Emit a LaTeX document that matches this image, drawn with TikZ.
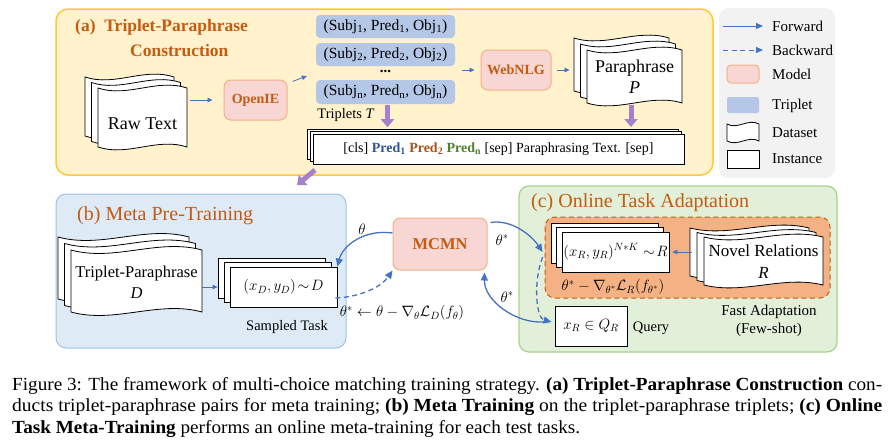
\RequirePackage{fix-cm}
\documentclass[tikz,border=0pt]{standalone}
\usepackage{fontspec}
\setmainfont{Liberation Serif}
\usepackage{graphicx}
\usetikzlibrary{arrows.meta,calc}
\definecolor{ttl}{HTML}{C55A11}
\definecolor{fwdc}{HTML}{4472C4}
\definecolor{purp}{HTML}{A681C9}
\definecolor{aFill}{HTML}{FFF2CC}
\definecolor{aDraw}{HTML}{FFC936}
\definecolor{bFill}{HTML}{DEEBF7}
\definecolor{bDraw}{HTML}{9DC3E6}
\definecolor{cFill}{HTML}{E2F0D9}
\definecolor{cDraw}{HTML}{A9D18E}
\definecolor{oFill}{HTML}{F4B183}
\definecolor{oDraw}{HTML}{C55A11}
\definecolor{mFill}{HTML}{F7D6D4}
\definecolor{mDraw}{HTML}{F4B183}
\definecolor{tFill}{HTML}{B4C7E7}
\definecolor{legFill}{HTML}{F2F2F2}
\definecolor{pOne}{HTML}{2F5597}
\definecolor{pTwo}{HTML}{A5521B}
\definecolor{pN}{HTML}{4F7F2F}
\newcommand\fs[1]{\pgfmathsetmacro\fsbase{#1*1.2}\fontsize{#1}{\fsbase}\selectfont}
\newcommand\wavedoc[5]{%
 \pgfmathsetmacro\wA{#1+(#3-#1)/3}\pgfmathsetmacro\wB{#1+2*(#3-#1)/3}%
 \pgfmathsetmacro\tA{#2+#5}\pgfmathsetmacro\tB{#2-#5}%
 \pgfmathsetmacro\bA{#4+#5}\pgfmathsetmacro\bB{#4-#5}%
 \filldraw[docpage] (#1,#2) .. controls (\wA,\tA) and (\wB,\tB) .. (#3,#2) -- (#3,#4) .. controls (\wB,\bB) and (\wA,\bA) .. (#1,#4) -- cycle;}
\begin{document}
\begin{tikzpicture}[x=1pt,y=-1pt,
  docpage/.style={draw=black,fill=white,line width=0.8pt},
  instpage/.style={draw=black,fill=white,line width=0.8pt},
  fwd/.style={draw=fwdc,line width=0.8pt,-{Triangle[length=5pt,width=4.5pt]}},
  curv/.style={draw=fwdc,line width=1.3pt,-{Triangle[length=8pt,width=7pt]}},
  dsh/.style={dash pattern=on 5pt off 3.5pt},
  purparrow/.style={draw=purp,line width=5pt,-{Triangle[length=8pt,width=13pt]}},
  model/.style={draw=mDraw,fill=mFill,rounded corners=7pt,line width=1pt,text=ttl,inner sep=0pt},
  trip/.style={fill=tFill,rounded corners=4pt,inner sep=0pt,minimum width=139pt,font=\fs{15.5}},
  doctext/.style={inner sep=0pt,font=\fs{18},align=center},
  lbl/.style={inner sep=0pt},
  legtext/.style={anchor=west,inner sep=0pt,font=\fs{15}},
]
\useasboundingbox (0,0) rectangle (896,447);
% ---------- panels ----------
\filldraw[fill=aFill,draw=aDraw,line width=1.5pt,rounded corners=12pt] (56,9) rectangle (713,175);
\filldraw[fill=legFill,draw=none,rounded corners=10pt] (719,8) rectangle (835,178);
\filldraw[fill=bFill,draw=bDraw,line width=1pt,rounded corners=10pt] (56,194) rectangle (346,348);
\filldraw[fill=cFill,draw=cDraw,line width=1.2pt,rounded corners=10pt] (519,186) rectangle (837,352);
\filldraw[fill=oFill,draw=oDraw,line width=1pt,dsh,rounded corners=10pt] (545,217) rectangle (830,298);
% ---------- titles ----------
\node[lbl,anchor=west,text=ttl,font=\fs{17.5}\bfseries] (ta) at (75,27) {(a)\enspace Triplet-Paraphrase};
\node[lbl,anchor=west,text=ttl,font=\fs{17.5}\bfseries] (ta2) at (130,51) {Construction};
\node[lbl,anchor=west,text=ttl,font=\fs{20}] (tb) at (77,216) {(b) Meta Pre-Training};
\node[lbl,anchor=west,text=ttl,font=\fs{20}] (tc) at (531,203) {(c) Online Task Adaptation};
% ---------- (a) ----------
\wavedoc{85}{77}{174}{136}{10}
\wavedoc{91.5}{82.5}{180.5}{141.5}{10}
\wavedoc{98}{88}{187}{147}{10}
\node[doctext] (raw) at (142.5,124) {Raw Text};
\node[model,minimum width=63pt,minimum height=40pt,font=\fs{14}\bfseries] (openie) at (255.5,100) {OpenIE};
\node[trip,minimum height=23pt] (t1) at (385.5,26.5) {(Subj\textsubscript{1}, Pred\textsubscript{1}, Obj\textsubscript{1})};
\node[trip,minimum height=23pt] (t2) at (385.5,54.5) {(Subj\textsubscript{2}, Pred\textsubscript{2}, Obj\textsubscript{2})};
\node[lbl,font=\fs{15}] (tdots) at (385.5,71) {\textbf{...}};
\node[trip,minimum height=24pt] (t3) at (385.5,92) {(Subj\textsubscript{n}, Pred\textsubscript{n}, Obj\textsubscript{n})};
\node[lbl,font=\fs{14.5}] (tlab) at (346,115) {Triplets \textit{T}};
\node[model,minimum width=70pt,minimum height=40pt,font=\fs{14}\bfseries] (webnlg) at (516,70) {WebNLG};
\wavedoc{574}{38}{669}{91}{10}
\wavedoc{580.5}{44}{675.5}{97}{10}
\wavedoc{587}{50}{682}{103}{10}
\node[doctext,font=\fontsize{18}{21}\selectfont] (para) at (634.5,77) {Paraphrase\\\textit{P}};
\filldraw[instpage] (307,129) rectangle (678,159);
\filldraw[instpage] (310,131.5) rectangle (681,161.5);
\node[instpage,minimum width=371pt,minimum height=30pt,inner sep=0pt,font=\fs{14}] (cls) at (498.5,149)
  {[cls] \textbf{\color{pOne}Pred\textsubscript{1}} \textbf{\color{pTwo}Pred\textsubscript{2}} \textbf{\color{pN}Pred\textsubscript{n}} [sep] Paraphrasing Text. [sep]};
\draw[fwd,shorten <=13pt,shorten >=11pt] (raw.east |- openie.west) -- (openie.west);
\draw[fwd] ($(openie.north east)+(5,2)$) -- ($(t3.west)+(-9,-16)$);
\draw[fwd,shorten <=7pt,shorten >=6pt] (t2.east |- webnlg.west) -- (webnlg.west);
\draw[fwd] ($(webnlg.east)+(5,0)$) -- ($(webnlg.east)+(18,0)$);
\draw[purparrow] ($(t3.south)+(2,1)$) -- ($(t3.south)+(2,23)$);
\coordinate (pp1) at (631,105);
\coordinate (pp2) at (631,127);
\draw[purparrow] (pp1) -- (pp2);
\coordinate (pa) at (315,170);
\coordinate (pb) at (297,185);
\draw[purparrow] (pa) -- (pb);
% ---------- legend ----------
\coordinate (lf1) at (723,26); \coordinate (lf2) at (763,26);
\draw[fwd,line width=1pt,-{Triangle[length=7pt,width=6pt]}] (lf1) -- (lf2);
\node[legtext] (lfw) at (772,26) {Forward};
\coordinate (lb1) at (723,50); \coordinate (lb2) at (763,50);
\draw[fwd,line width=1pt,dsh,-{Triangle[length=7pt,width=6pt]}] (lb1) -- (lb2);
\node[legtext] (lbw) at (772,50) {Backward};
\filldraw[draw=mDraw,fill=mFill,line width=1pt,rounded corners=4pt] (727,65) rectangle (759,83);
\node[legtext] (lmo) at (772,74) {Model};
\filldraw[fill=tFill,draw=none,rounded corners=2pt] (727,97) rectangle (759,113);
\node[legtext] (ltr) at (772,106) {Triplet};
\wavedoc{727}{124}{759}{141}{6}
\node[legtext] (lds) at (772,133) {Dataset};
\filldraw[instpage] (727,150) rectangle (759,168);
\node[legtext] (lin) at (772,159) {Instance};
% ---------- (b) ----------
\wavedoc{58}{237}{189}{299}{12}
\wavedoc{64.5}{243.5}{195.5}{305.5}{12}
\wavedoc{71}{250}{202}{312}{12}
\node[doctext,font=\fontsize{16.5}{21}\selectfont] (tpd) at (136.5,282) {Triplet-Paraphrase\\\textit{D}};
\filldraw[instpage] (218,258) rectangle (325,298);
\filldraw[instpage] (224,262.5) rectangle (331,302.5);
\node[instpage,minimum width=107pt,minimum height=40pt,inner sep=0pt,font=\fs{15}] (samp) at (283.5,287) {$(x_D,y_D)\!\sim\! D$};
\node[lbl,font=\fs{14.5}] (stl) at (287,327) {Sampled Task};
\draw[fwd,shorten >=12pt] (samp.west -| 202,0) -- (samp.west);
\node[model,minimum width=94pt,minimum height=52pt,font=\fs{16.5}\bfseries] (mcmn) at (440,244) {MCMN};
\node[lbl,font=\fs{15}] (fb) at (402,313) {$\theta^*\leftarrow\theta-\nabla_\theta\mathcal{L}_D(f_\theta)$};
% ---------- (c) ----------
\filldraw[instpage] (551,223) rectangle (658,263);
\filldraw[instpage] (556.5,227.5) rectangle (663.5,267.5);
\node[instpage,minimum width=107pt,minimum height=40pt,inner sep=0pt,font=\fs{15}] (rc) at (615.5,252) {$(x_R,y_R)^{N*K}\sim\! R$};
\wavedoc{690}{228}{809}{276}{10}
\wavedoc{697}{232.5}{816}{280.5}{10}
\wavedoc{704}{237}{823}{285}{10}
\node[doctext,font=\fontsize{17}{22}\selectfont] (novel) at (763.5,262) {Novel Relations\\\textit{R}};
\draw[fwd,shorten <=12pt,shorten >=3pt] (rc.east -| 704,0) -- (rc.east);
\node[lbl,font=\fs{15}] (fc) at (613,287) {$\theta^*-\nabla_{\theta^*}\mathcal{L}_R(f_{\theta^*})$};
\node[instpage,minimum width=72pt,minimum height=40pt,inner sep=0pt,font=\fs{15}] (query) at (591,326) {$x_R\in Q_R$};
\node[lbl,font=\fs{14.5}] (ql) at (651,328) {Query};
\node[lbl,font=\fontsize{15}{17.5}\selectfont,align=center] (fa) at (769,321) {Fast Adaptation\\(Few-shot)};
% ---------- curved connectors ----------
\draw[curv] ($(mcmn.west)+(0,-11)$) .. controls (365,229) and (343,245) .. (samp.north east);
\draw[curv,dsh] ($(samp.east)+(-2,11)$) .. controls (362,297) and (382,286) .. (mcmn.south west);
\draw[curv] ($(mcmn.north east)+(3,5)$) .. controls (512,219) and (532,236) .. ($(rc.west)+(-19,0)$);
\draw[curv] ($(query.west)+(-10,-4)$) .. controls (515,324) and (484,300) .. ($(mcmn.south east)+(-3,2)$);
\draw[curv,dsh] ($(rc.west)+(-19,5)$) .. controls (533,282) and (536,318) .. ($(query.west)+(-3,-4)$);
\node[lbl,font=\fs{15}] (lt1) at (362,229) {$\theta$};
\node[lbl,font=\fs{15}] (lt2) at (502,240) {$\theta^*$};
\node[lbl,font=\fs{15}] (lt3) at (507,297) {$\theta^*$};
% ---------- caption ----------
\node[lbl,anchor=base west] (cap1) at (12,390) {\resizebox{870pt}{\height}{\fs{18.5}Figure 3: The framework of multi-choice matching training strategy. \textbf{(a) Triplet-Paraphrase Construction} con-}};
\node[lbl,anchor=base west] (cap2) at (12,411.5) {\resizebox{870pt}{\height}{\fs{18.5}ducts triplet-paraphrase pairs for meta training; \textbf{(b) Meta Training} on the triplet-paraphrase triplets; \textbf{(c) Online}}};
\node[lbl,anchor=base west] (cap3) at (12,433) {\resizebox{568pt}{\height}{\fs{18.5}\textbf{Task Meta-Training} performs an online meta-training for each test tasks.}};
\end{tikzpicture}
\end{document}
